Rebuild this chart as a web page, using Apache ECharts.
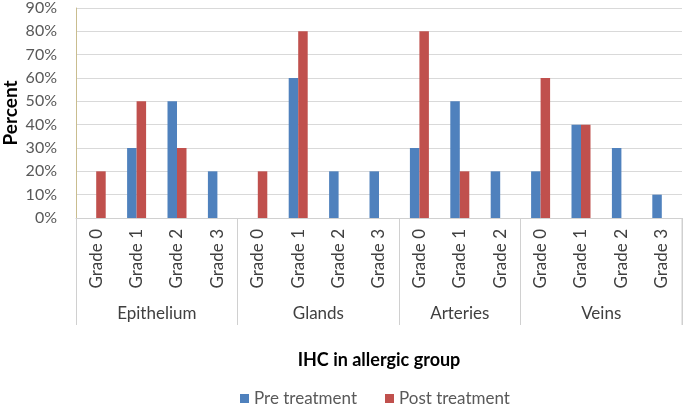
<!DOCTYPE html>
<html><head><meta charset="utf-8">
<script src="https://cdn.jsdelivr.net/npm/echarts@6/dist/echarts.min.js"></script>
<style>html,body{margin:0;padding:0;background:#fff}#c{width:685px;height:406px}</style>
</head><body><div id="c"></div>
<script>
const groupNames = ['Epithelium', 'Glands', 'Arteries', 'Veins'];
const groupGrades = [
  ['Grade 0', 'Grade 1', 'Grade 2', 'Grade 3'],
  ['Grade 0', 'Grade 1', 'Grade 2', 'Grade 3'],
  ['Grade 0', 'Grade 1', 'Grade 2'],
  ['Grade 0', 'Grade 1', 'Grade 2', 'Grade 3']
];
const preTreatment  = [0, 30, 50, 20,  0, 60, 20, 20,  30, 50, 20,  20, 40, 30, 10];
const postTreatment = [20, 50, 30, 0,  20, 80, 0, 0,   80, 20, 0,   60, 40, 0, 0];
const yTicks = [0, 10, 20, 30, 40, 50, 60, 70, 80, 90];

const FONT = 'Lato, "Open Sans", sans-serif';
const categories = [];
const groupStart = [];
groupGrades.forEach((gs, gi) => {
  groupStart.push(categories.length);
  gs.forEach(g => categories.push(groupNames[gi] + '|' + g));
});
const boundaries = new Set(groupStart);

const chart = echarts.init(document.getElementById('c'));
chart.setOption({
  animation: false,
  textStyle: { fontFamily: FONT },
  grid: { left: 76, right: 3, top: 8, bottom: 188, containLabel: false, outerBoundsMode: 'none' },
  legend: {
    left: 240, top: 390, padding: 0,
    itemWidth: 9, itemHeight: 9, itemGap: 28,
    icon: 'rect',
    textStyle: { fontSize: 17, color: '#595959', fontFamily: FONT },
    data: ['Pre treatment', 'Post treatment']
  },
  xAxis: {
    type: 'category',
    data: categories,
    name: 'IHC in allergic group',
    nameLocation: 'middle',
    nameGap: 133,
    nameMoveOverlap: false,
    nameTextStyle: { fontSize: 18, fontWeight: 'bold', color: '#000', fontFamily: FONT },
    axisLine: { lineStyle: { color: '#d0d0d0' } },
    axisTick: {
      show: true, inside: false, length: 107,
      interval: (i) => boundaries.has(i),
      lineStyle: { color: '#d0d0d0' }
    },
    axisLabel: {
      rotate: 90, margin: 11, interval: 0,
      fontSize: 17, color: '#404040', fontFamily: FONT,
      formatter: v => v.split('|')[1]
    }
  },
  yAxis: {
    type: 'value', min: 0, max: 90, interval: 10,
    name: 'Percent', nameLocation: 'middle', nameGap: 56,
    nameMoveOverlap: false,
    nameTextStyle: { fontSize: 19, fontWeight: 'bold', color: '#000', fontFamily: FONT },
    axisLine: { show: true, lineStyle: { color: '#c9bd8f' } },
    axisTick: { show: false },
    axisLabel: { margin: 19, fontSize: 16, color: '#595959', fontFamily: FONT,
      formatter: v => yTicks.includes(v) ? v + '%' : '' },
    splitLine: { lineStyle: { color: '#d9d9d9' } }
  },
  series: [
    { name: 'Pre treatment', type: 'bar', data: preTreatment, barWidth: 9.5, barGap: '0%',
      itemStyle: { color: '#4F81BD' } },
    { name: 'Post treatment', type: 'bar', data: postTreatment, barWidth: 9.5, barGap: '0%',
      itemStyle: { color: '#C0504D' } }
  ]
});

const yBase = chart.convertToPixel({ yAxisIndex: 0 }, 0);
const graphics = [];
groupNames.forEach((name, gi) => {
  const a = groupStart[gi];
  const b = a + groupGrades[gi].length - 1;
  const xa = chart.convertToPixel({ xAxisIndex: 0 }, a);
  const xb = chart.convertToPixel({ xAxisIndex: 0 }, b);
  graphics.push({
    type: 'text', x: (xa + xb) / 2, y: yBase + 96,
    style: { text: name, fontSize: 17, fill: '#404040', fontFamily: FONT, align: 'center', verticalAlign: 'middle' }
  });
});
const lastX = chart.convertToPixel({ xAxisIndex: 0 }, categories.length - 1);
const firstX = chart.convertToPixel({ xAxisIndex: 0 }, 0);
const half = (lastX - firstX) / (categories.length - 1) / 2;
graphics.push({ type: 'line', shape: { x1: lastX + half, y1: yBase, x2: lastX + half, y2: yBase + 107 },
  style: { stroke: '#d0d0d0', lineWidth: 1 } });
chart.setOption({ graphic: graphics });
</script></body></html>
